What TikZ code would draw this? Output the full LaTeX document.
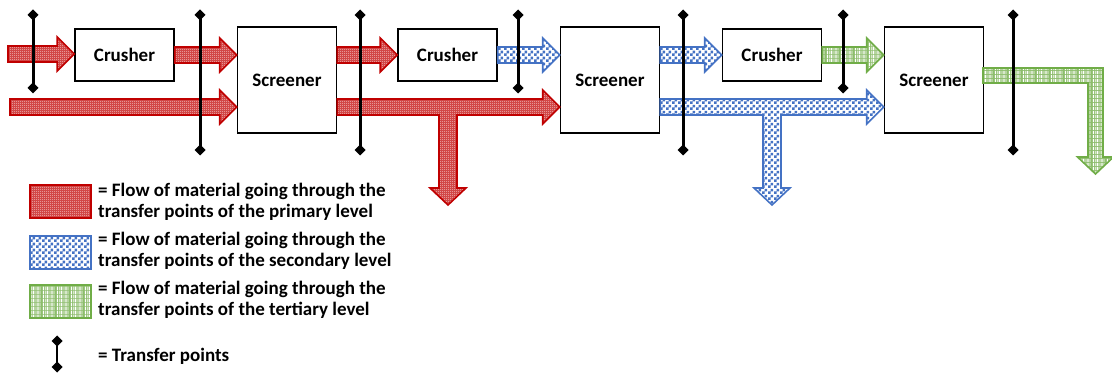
\documentclass[tikz,border=0pt]{standalone}
\usepackage{fontspec}
\setmainfont{Carlito}
\usetikzlibrary{arrows.meta,patterns,calc}
\definecolor{fred}{HTML}{C00000}
\definecolor{fblue}{HTML}{4472C4}
\definecolor{fgreen}{HTML}{70AD47}
\pgfdeclarepatternformonly{whitedots}{\pgfqpoint{0pt}{0pt}}{\pgfqpoint{2pt}{2pt}}{\pgfqpoint{2pt}{2pt}}{%
  \pgfpathrectangle{\pgfqpoint{0pt}{0pt}}{\pgfqpoint{1pt}{1pt}}\pgfusepath{fill}}
\pgfdeclarepatternformonly{checker}{\pgfqpoint{0pt}{0pt}}{\pgfqpoint{6pt}{6pt}}{\pgfqpoint{6pt}{6pt}}{%
  \pgfpathrectangle{\pgfqpoint{0pt}{0pt}}{\pgfqpoint{3pt}{3pt}}%
  \pgfpathrectangle{\pgfqpoint{3pt}{3pt}}{\pgfqpoint{3pt}{3pt}}\pgfusepath{fill}}
\pgfdeclarepatternformonly{vstripes}{\pgfqpoint{0pt}{0pt}}{\pgfqpoint{14pt}{4pt}}{\pgfqpoint{14pt}{4pt}}{%
  \pgfpathrectangle{\pgfqpoint{1pt}{0pt}}{\pgfqpoint{1.2pt}{4pt}}%
  \pgfpathrectangle{\pgfqpoint{3.5pt}{0pt}}{\pgfqpoint{0.8pt}{4pt}}%
  \pgfpathrectangle{\pgfqpoint{5.2pt}{0pt}}{\pgfqpoint{1.5pt}{4pt}}%
  \pgfpathrectangle{\pgfqpoint{8pt}{0pt}}{\pgfqpoint{0.8pt}{4pt}}%
  \pgfpathrectangle{\pgfqpoint{10pt}{0pt}}{\pgfqpoint{1.3pt}{4pt}}%
  \pgfpathrectangle{\pgfqpoint{12.4pt}{0pt}}{\pgfqpoint{0.8pt}{4pt}}\pgfusepath{fill}}
\tikzset{
  box/.style={draw=black, line width=1.5pt, fill=white, font=\bfseries\fontsize{19}{21}\selectfont, inner sep=0pt},
  crusherbox/.style={box, minimum width=99pt, minimum height=52pt},
  screenerbox/.style={box, minimum width=99pt, minimum height=106pt},
  redflow/.style={draw=fred, line width=1.6pt, preaction={fill=fred!72}, pattern=whitedots, pattern color=white},
  blueflow/.style={draw=fblue, line width=1.6pt, preaction={fill=white}, pattern=checker, pattern color=fblue},
  greenflow/.style={draw=fgreen, line width=1.6pt, preaction={fill=fgreen!80}, pattern=vstripes, pattern color=white},
  tp/.style={draw=black, line width=3pt, {Diamond[width=11pt,length=11pt]}-{Diamond[width=11pt,length=11pt]}, shorten <=-5.5pt, shorten >=-5.5pt},
  legtext/.style={font=\bfseries\fontsize{19}{21}\selectfont, anchor=north west, align=left, inner sep=0pt}
}
% straight flow arrow: from #1 to the x of #2 at the height of #1
\newcommand\flowarrow[3]{\path[#3] let \p1=(#1), \p2=(#2) in
  (\x1,\y1+8pt) -- (\x2-17pt,\y1+8pt) -- (\x2-17pt,\y1+17pt) -- (\x2,\y1) -- (\x2-17pt,\y1-17pt)
  -- (\x2-17pt,\y1-8pt) -- (\x1,\y1-8pt) -- cycle;}
% flow arrow with a downward branch ending at #3
\newcommand\tflowarrow[4]{\path[#4] let \p1=(#1), \p2=(#2), \p3=(#3) in
  (\x1,\y1+8pt) -- (\x2-17pt,\y1+8pt) -- (\x2-17pt,\y1+17pt) -- (\x2,\y1) -- (\x2-17pt,\y1-17pt)
  -- (\x2-17pt,\y1-8pt) -- (\x3+9pt,\y1-8pt) -- (\x3+9pt,\y3+17pt) -- (\x3+18pt,\y3+17pt) -- (\x3,\y3)
  -- (\x3-18pt,\y3+17pt) -- (\x3-9pt,\y3+17pt) -- (\x3-9pt,\y1-8pt) -- (\x1,\y1-8pt) -- cycle;}
\begin{document}
\begin{tikzpicture}[x=1pt,y=-1pt]
\useasboundingbox (0,0) rectangle (1112,374);
% machines
\node[crusherbox]  (c1) at (124.5,55) {Crusher};
\node[screenerbox] (s1) at (287,80) {Screener};
\node[crusherbox]  (c2) at (447.5,55) {Crusher};
\node[screenerbox] (s2) at (610,80) {Screener};
\node[crusherbox]  (c3) at (772,55) {Crusher};
\node[screenerbox] (s3) at (934,80) {Screener};
% free ends
\coordinate (in1) at (8,54);
\coordinate (in2) at (10,107);
\coordinate (out1) at (448,205);
\coordinate (out2) at (772,205);
\coordinate (g0) at (983,75.5);
\coordinate (out3) at (1095.5,174);
% flows
\flowarrow{in1}{c1.west}{redflow}
\flowarrow{c1.east}{s1.west}{redflow}
\flowarrow{in2}{s1.west}{redflow}
\flowarrow{s1.east |- c2.west}{c2.west}{redflow}
\tflowarrow{s1.east |- in2}{s2.west}{out1}{redflow}
\flowarrow{c2.east}{s2.west}{blueflow}
\flowarrow{s2.east |- c3.west}{c3.west}{blueflow}
\tflowarrow{s2.east |- in2}{s3.west}{out2}{blueflow}
\flowarrow{c3.east}{s3.west}{greenflow}
\path[greenflow] let \p1=(g0), \p3=(out3) in
  (\x1,\y1+7.5pt) -- (\x3+7.5pt,\y1+7.5pt) -- (\x3+7.5pt,\y3+17pt) -- (\x3+18pt,\y3+17pt) -- (\x3,\y3)
  -- (\x3-18pt,\y3+17pt) -- (\x3-7.5pt,\y3+17pt) -- (\x3-7.5pt,\y1-7.5pt) -- (\x1,\y1-7.5pt) -- cycle;
% transfer points
\draw[tp] (33,15) -- (33,88);
\draw[tp] (200,15) -- (200,150);
\draw[tp] (360,15) -- (360,150);
\draw[tp] (518,15) -- (518,88);
\draw[tp] (683,15) -- (683,150);
\draw[tp] (843,15) -- (843,88);
\draw[tp] (1013,15) -- (1013,150);
% legend
\path[redflow] (30,185) rectangle (91,218);
\node[legtext] (l1) at (98,183) {= Flow of material going through the\\transfer points of the primary level};
\path[blueflow] (30,236) rectangle (91,269);
\node[legtext] (l2) at (98,232) {= Flow of material going through the\\transfer points of the secondary level};
\path[greenflow] (30,285) rectangle (91,318);
\node[legtext] (l3) at (98,281) {= Flow of material going through the\\transfer points of the tertiary level};
\draw[tp, line width=2.5pt] (57,341) -- (57,367);
\node[legtext, anchor=west] (l4) at (98,356) {= Transfer points};
\end{tikzpicture}
\end{document}
